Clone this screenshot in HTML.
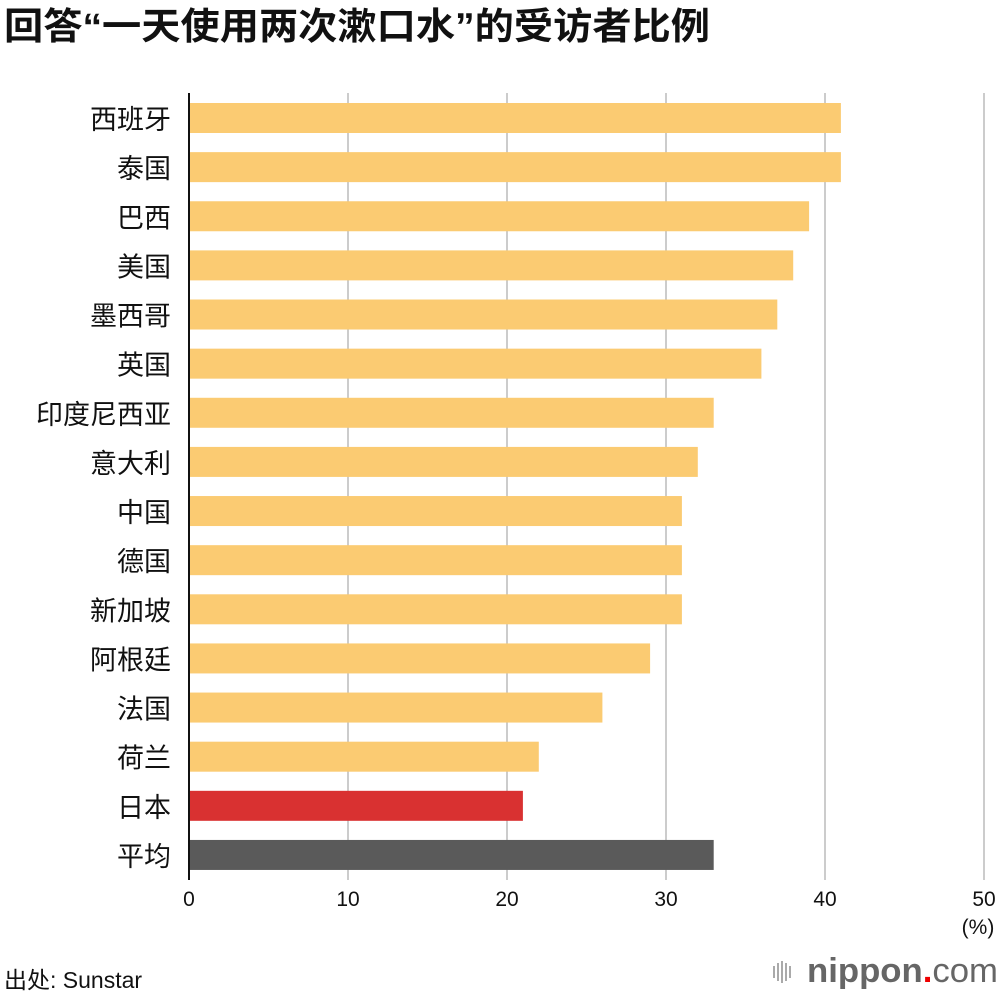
<!DOCTYPE html>
<html><head><meta charset="utf-8"><style>
body{margin:0;width:1000px;height:996px;background:#fff;font-family:"Liberation Sans","Noto Sans CJK SC",sans-serif;overflow:hidden}
</style></head><body>
<svg id="chart" width="1000" height="996" xmlns="http://www.w3.org/2000/svg">
<text x="4" y="39" font-size="37" font-weight="bold" fill="#111" textLength="706" lengthAdjust="spacingAndGlyphs" font-family="Liberation Sans,Noto Sans CJK SC,sans-serif">回答“一天使用两次漱口水”的受访者比例</text>
<g id="grid"></g><g id="bars"></g><g id="labels"></g><g id="ticks"></g>
<line x1="189" y1="93" x2="189" y2="880" stroke="#111" stroke-width="2"/>
<text x="978" y="934" font-size="21" text-anchor="middle" fill="#111">(%)</text>
<text x="4" y="988" font-size="23" fill="#111" font-family="Liberation Sans,Noto Sans CJK SC,sans-serif">出处: Sunstar</text>
<g>
<g fill="#aaa"><rect x="773" y="966" width="2" height="12"/><rect x="777" y="963" width="2" height="18"/><rect x="781" y="961" width="2" height="22"/><rect x="785" y="963" width="2" height="18"/><rect x="789" y="966" width="2" height="12"/></g>
<text x="807" y="982" font-size="34" fill="#666" font-weight="bold" textLength="191" lengthAdjust="spacingAndGlyphs">nippon<tspan fill="#e00">.</tspan><tspan font-weight="normal">com</tspan></text>
</g>
</svg>
<script>
const categories=["西班牙","泰国","巴西","美国","墨西哥","英国","印度尼西亚","意大利","中国","德国","新加坡","阿根廷","法国","荷兰","日本","平均"];
const values=[41,41,39,38,37,36,33,32,31,31,31,29,26,22,21,33];
const tickValues=[0,10,20,30,40,50];
const NS="http://www.w3.org/2000/svg";
const x=v=>189+v*15.9;
const y=i=>103+i*49.13;
function mk(t,a,p){const e=document.createElementNS(NS,t);for(const k in a)e.setAttribute(k,a[k]);document.getElementById(p).appendChild(e);return e;}
tickValues.forEach(t=>{
  if(t>0){const l=mk('line',{x1:x(t),x2:x(t),y1:93,y2:880,stroke:'#ccc','stroke-width':2},'grid');
  
  }
  const tx=mk('text',{x:x(t),y:906,'font-size':21,'text-anchor':'middle',fill:'#111'},'ticks');
  tx.textContent=t;
  
  
});
categories.forEach((c,i)=>{
  const col=c==="日本"?"#d93131":c==="平均"?"#5a5a5a":"#fbcb72";
  const r=mk('rect',{x:189,y:y(i),width:x(values[i])-189,height:30,fill:col},'bars');
  
  
  const t=mk('text',{x:171,y:y(i)+26,'font-size':27,'text-anchor':'end',fill:'#111'},'labels');
  t.textContent=c;
  
  
});
</script>
</body></html>
